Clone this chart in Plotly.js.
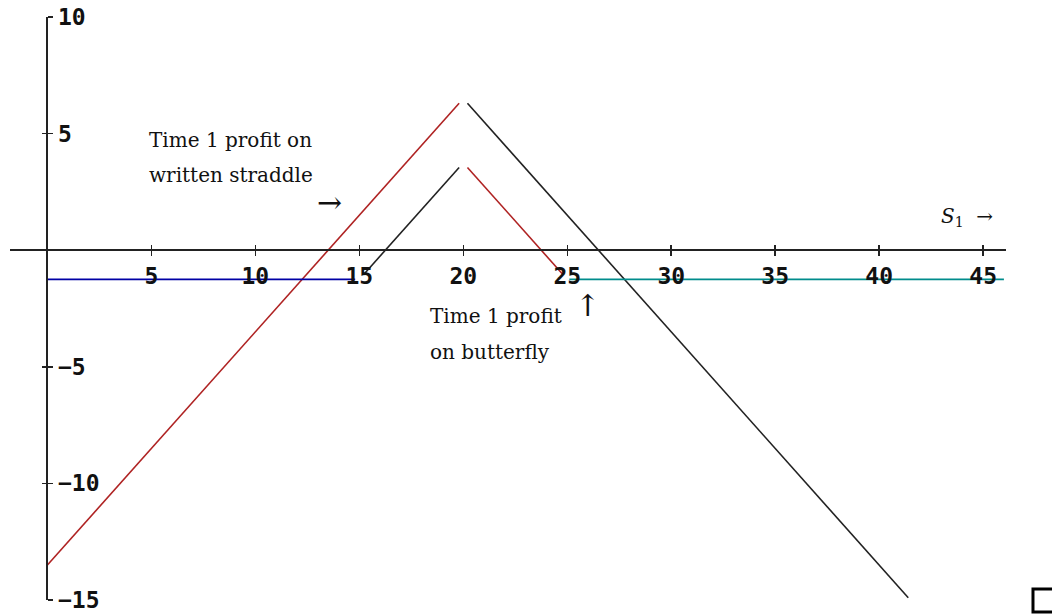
<!DOCTYPE html>
<html>
<head>
<meta charset="utf-8">
<script src="https://cdn.plot.ly/plotly-3.0.1.min.js"></script>
<style>html,body{margin:0;padding:0;background:#fff;}#chart{width:1052px;height:614px;}</style>
</head>
<body>
<div id="chart"></div>
<script>
// ---- data (stock price S1 vs time-1 profit) ----
const straddleRiseS = [0, 19.8];
const straddleRiseP = [-13.5, 6.3];
const straddleFallS = [20.2, 41.4];
const straddleFallP = [6.3, -14.9];

const flyLowS = [0, 14.8];
const flyLowP = [-1.25, -1.25];
const flyRiseS = [15.2, 19.8];
const flyRiseP = [-1.05, 3.55];
const flyFallS = [20.2, 24.8];
const flyFallP = [3.55, -1.05];
const flyHighS = [25.1, 46];
const flyHighP = [-1.25, -1.25];

const xTickVals = [5, 10, 15, 20, 25, 30, 35, 40, 45];
const xTickText = ["5", "10", "15", "20", "25", "30", "35", "40", "45"];
const yTickVals = [-15, -10, -5, 5, 10];
const yTickText = ["\u221215", "\u221210", "\u22125", "5", "10"];

const RED = "rgb(175,35,35)";
const BLK = "#222222";
const BLUE = "rgb(0,0,165)";
const TEAL = "rgb(0,140,140)";

function seg(x, y, color) {
  return {x: x, y: y, type: "scatter", mode: "lines",
          line: {color: color, width: 1.6}, hoverinfo: "skip", showlegend: false};
}

const traces = [
  seg(straddleRiseS, straddleRiseP, RED),
  seg(straddleFallS, straddleFallP, BLK),
  seg(flyLowS, flyLowP, BLUE),
  seg(flyRiseS, flyRiseP, BLK),
  seg(flyFallS, flyFallP, RED),
  seg(flyHighS, flyHighP, TEAL),
  {x: [null], y: [null], xaxis: "x2", yaxis: "y2", type: "scatter", mode: "lines", showlegend: false, hoverinfo: "skip"}
];

const xRange = [-1.8, 46.1];
const yRange = [-15, 10];
const xZeroFrac = (0 - xRange[0]) / (xRange[1] - xRange[0]);
const yZeroFrac = (0 - yRange[0]) / (yRange[1] - yRange[0]);

const tickFont = {family: "DejaVu Sans Mono", size: 23, color: "#111", weight: 700};
const txtFont = {family: "DejaVu Serif", size: 20, color: "#111"};
const arrFont = {family: "DejaVu Serif", size: 30, color: "#111"};

function ann(x, y, text, font, anchor) {
  return {x: x, y: y, xref: "x", yref: "y", text: text, showarrow: false,
          xanchor: anchor || "left", yanchor: "middle", font: font};
}

const layout = {
  width: 1052, height: 614,
  margin: {l: 10, r: 46, t: 17, b: 14, pad: 0},
  paper_bgcolor: "#ffffff", plot_bgcolor: "#ffffff",
  showlegend: false,
  xaxis: {
    range: xRange, anchor: "free", position: yZeroFrac,
    showline: true, linecolor: BLK, linewidth: 2,
    showgrid: false, zeroline: false,
    ticks: "outside", ticklen: 5, tickwidth: 1.5, tickcolor: BLK,
    tickmode: "array", tickvals: xTickVals, ticktext: xTickText,
    tickfont: tickFont, fixedrange: true
  },
  yaxis: {
    range: yRange, anchor: "free", position: xZeroFrac, side: "right",
    showline: true, linecolor: BLK, linewidth: 2,
    showgrid: false, zeroline: false,
    ticks: "outside", ticklen: 5, tickwidth: 1.5, tickcolor: BLK,
    tickmode: "array", tickvals: yTickVals, ticktext: yTickText,
    tickfont: tickFont, fixedrange: true
  },
  xaxis2: {
    range: xRange, overlaying: "x", anchor: "free", position: yZeroFrac,
    showline: false, showgrid: false, zeroline: false, showticklabels: false,
    ticks: "inside", ticklen: 5, tickwidth: 1.5, tickcolor: BLK,
    tickmode: "array", tickvals: xTickVals, fixedrange: true
  },
  yaxis2: {
    range: yRange, overlaying: "y", anchor: "free", position: xZeroFrac, side: "right",
    showline: false, showgrid: false, zeroline: false, showticklabels: false,
    ticks: "inside", ticklen: 5, tickwidth: 1.5, tickcolor: BLK,
    tickmode: "array", tickvals: yTickVals, fixedrange: true
  },
  annotations: [
    ann(4.79, 4.72, "Time 1 profit on", txtFont),
    ann(4.79, 3.22, "written straddle", txtFont),
    ann(13.55, 2.06, "\u2192", arrFont, "center"),
    ann(18.31, -2.83, "Time 1 profit", txtFont),
    ann(18.31, -4.37, "on butterfly", txtFont),
    ann(25.96, -2.35, "\u2191", arrFont, "center"),
    ann(42.9, 1.42, "<i>S</i><sub>1</sub>  \u2192", txtFont)
  ],
  shapes: [
    {type: "rect", xref: "paper", yref: "paper",
     x0: 1.0271, x1: 1.052, y0: -0.0206, y1: 0.0189,
     line: {color: "#000", width: 3}, fillcolor: "rgba(0,0,0,0)"}
  ]
};

Plotly.newPlot("chart", traces, layout, {displayModeBar: false, staticPlot: true});
</script>
</body>
</html>
